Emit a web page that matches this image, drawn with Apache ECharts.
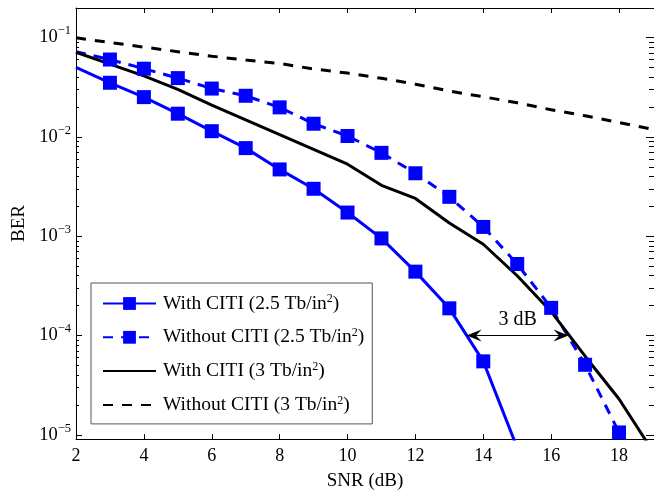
<!doctype html>
<html>
<head>
<meta charset="utf-8">
<title>BER vs SNR</title>
<script src="https://cdn.jsdelivr.net/npm/echarts@6/dist/echarts.min.js"></script>
</head>
<body style="margin:0;background:#fff">
<div id="main" style="width:654px;height:496px;"></div>
<script>
// data (BER on a log scale)
var seriesNames = [
    'With CITI (2.5 Tb/in^2)',
    'Without CITI (2.5 Tb/in^2)',
    'With CITI (3 Tb/in^2)',
    'Without CITI (3 Tb/in^2)'
];
var snrWith25 = [2, 3, 4, 5, 6, 7, 8, 9, 10, 11, 12, 13, 14, 15];
var berWith25 = [0.050, 0.035, 0.0251, 0.0171, 0.0114, 0.0077, 0.0047, 0.0030, 0.00173, 0.00095, 0.00044, 0.000188, 0.000055, 0.0000074];
var snrWithout25 = [2, 3, 4, 5, 6, 7, 8, 9, 10, 11, 12, 13, 14, 15, 16, 17, 18];
var berWithout25 = [0.072, 0.060, 0.0485, 0.039, 0.0306, 0.0259, 0.0198, 0.01355, 0.0102, 0.0069, 0.0043, 0.00249, 0.00124, 0.000525, 0.00019, 0.0000508, 0.0000106];
var snrWith3 = [2, 3, 4, 5, 6, 7, 8, 9, 10, 11, 12, 13, 14, 15, 16, 17, 18, 19];
var berWith3 = [0.071, 0.054, 0.041, 0.030, 0.0209, 0.0148, 0.0105, 0.0075, 0.0053, 0.00325, 0.0024, 0.00136, 0.00083, 0.00040, 0.000174, 0.000062, 0.000023, 0.0000068];
var snrWithout3 = [2, 3, 4, 5, 6, 7, 8, 9, 10, 11, 12, 13, 14, 15, 16, 17, 18, 19];
var berWithout3 = [0.0993, 0.089, 0.080, 0.072, 0.0648, 0.0592, 0.0547, 0.0482, 0.0438, 0.0388, 0.0339, 0.0289, 0.0253, 0.0220, 0.0187, 0.0163, 0.0139, 0.0119];

var xTicks = [2, 4, 6, 8, 10, 12, 14, 16, 18];
var yTicks = [1e-5, 1e-4, 1e-3, 1e-2, 1e-1];
var yMinorTicks = [];
for (var e = -5; e <= -1; e++) {
    for (var m = 2; m <= 9; m++) {
        if (m * Math.pow(10, e) < 0.198) yMinorTicks.push(m * Math.pow(10, e));
    }
}

// "3 dB" arrow
var arrowFrom = 13.51, arrowTo = 16.51, arrowBer = 1e-4;

var serif = "'Liberation Serif', 'DejaVu Serif', serif";
var blue = '#0000ff';

function pairs(xs, ys, firstBare) {
    var out = [];
    for (var i = 0; i < xs.length; i++) {
        if (i == 0 && firstBare) out.push({value: [xs[i], ys[i]], symbol: 'none'});
        else out.push([xs[i], ys[i]]);
    }
    return out;
}

function expLabel(v) {
    var p = Math.round(Math.log10(v));
    return '10{sup|' + String(p).replace('-', '\u2212') + '}';
}

var myChart = echarts.init(document.getElementById('main'));

var yCommon = {
    type: 'log', min: 9.1e-6, max: 0.198,
    splitLine: {show: false}, axisLine: {show: false}, axisLabel: {show: false}
};

var option = {
    animation: false,
    backgroundColor: '#fff',
    grid: {left: 76, top: 8, width: 582, height: 438},
    legend: {
        orient: 'vertical', left: 91, top: 283,
        padding: [10, 8, 9, 11], itemGap: 13.3,
        itemWidth: 53, itemHeight: 16,
        backgroundColor: '#fff', borderColor: '#555', borderWidth: 1,
        data: [
            {name: seriesNames[0]},
            {name: seriesNames[1]},
            {name: seriesNames[2], itemStyle: {opacity: 0}},
            {name: seriesNames[3], itemStyle: {opacity: 0}}
        ],
        formatter: function (n) { return n.replace('^2', '{sup|2}'); },
        textStyle: {
            fontFamily: serif, fontSize: 19.5, color: '#000', padding: [0, 0, 0, 2],
            rich: {sup: {fontFamily: serif, fontSize: 12, padding: [0, 0, 9, 0]}}
        }
    },
    xAxis: [{
        type: 'value', position: 'bottom', min: 2, max: 19.03,
        name: 'SNR (dB)', nameLocation: 'middle', nameGap: 33,
        nameTextStyle: {fontFamily: serif, fontSize: 19, color: '#000'},
        splitLine: {show: false},
        axisLine: {lineStyle: {color: '#000', width: 1}},
        axisTick: {inside: true, length: 5, customValues: xTicks, lineStyle: {color: '#000'}},
        axisLabel: {customValues: xTicks, fontFamily: serif, fontSize: 18, color: '#000', margin: 8}
    }, {
        type: 'value', position: 'top', min: 2, max: 19.03,
        splitLine: {show: false}, axisLabel: {show: false},
        axisLine: {lineStyle: {color: '#000', width: 1}},
        axisTick: {inside: true, length: 5, customValues: xTicks, lineStyle: {color: '#000'}}
    }],
    yAxis: [{
        type: 'log', position: 'left', min: 9.1e-6, max: 0.198,
        name: 'BER', nameLocation: 'middle', nameGap: 47,
        nameTextStyle: {fontFamily: serif, fontSize: 19, color: '#000'},
        splitLine: {show: false},
        axisLine: {show: true, lineStyle: {color: '#000', width: 1}},
        axisTick: {inside: true, length: 6, customValues: yTicks, lineStyle: {color: '#000'}},
        axisLabel: {
            customValues: yTicks, formatter: expLabel, margin: 5,
            fontFamily: serif, fontSize: 18.5, color: '#000',
            rich: {sup: {fontFamily: serif, fontSize: 12.5, padding: [0, 0, 13, 0]}}
        }
    }, {
        type: 'log', position: 'right', min: 9.1e-6, max: 0.198,
        splitLine: {show: false}, axisLabel: {show: false},
        axisLine: {show: false},
        axisTick: {inside: true, length: 8, customValues: yTicks, lineStyle: {color: '#000'}}
    },
    Object.assign({position: 'left', axisTick: {inside: true, length: 3, customValues: yMinorTicks, lineStyle: {color: '#000'}}}, yCommon),
    Object.assign({position: 'right', axisTick: {inside: true, length: 5, customValues: yMinorTicks, lineStyle: {color: '#000'}}}, yCommon)
    ],
    series: [{
        name: seriesNames[0], type: 'line',
        data: pairs(snrWith25, berWith25, true),
        symbol: 'rect', symbolSize: 14,
        lineStyle: {color: blue, width: 3},
        itemStyle: {color: blue},
        markLine: {
            silent: true,
            symbol: ['path://M0,0 L8,16 L0,10 L-8,16 Z', 'path://M0,0 L8,16 L0,10 L-8,16 Z'],
            symbolSize: [12, 15],
            lineStyle: {color: '#000', width: 1, type: 'solid'},
            label: {show: true, position: 'insideMiddleTop', formatter: '3 dB', distance: 6,
                    fontFamily: serif, fontSize: 20, color: '#000'},
            data: [[{coord: [arrowFrom + 0.22, arrowBer]}, {coord: [arrowTo - 0.22, arrowBer]}]]
        }
    }, {
        name: seriesNames[1], type: 'line',
        data: pairs(snrWithout25, berWithout25, true),
        symbol: 'rect', symbolSize: 14,
        lineStyle: {color: blue, width: 3, type: [10, 8]},
        itemStyle: {color: blue}
    }, {
        name: seriesNames[2], type: 'line',
        data: pairs(snrWith3, berWith3, false),
        symbol: 'none',
        lineStyle: {color: '#000', width: 3},
        itemStyle: {color: '#000'}
    }, {
        name: seriesNames[3], type: 'line',
        data: pairs(snrWithout3, berWithout3, false),
        symbol: 'none',
        lineStyle: {color: '#000', width: 3, type: [10, 9]},
        itemStyle: {color: '#000'}
    }]
};

myChart.setOption(option);
</script>
</body>
</html>
